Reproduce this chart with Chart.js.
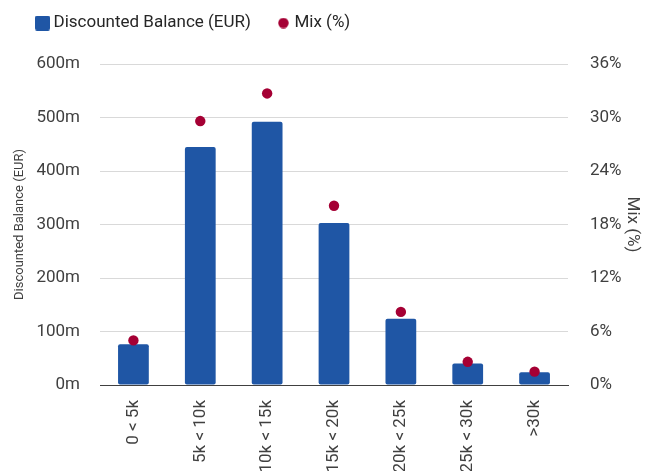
<!DOCTYPE html>
<html>
<head>
<meta charset="utf-8">
<script src="https://cdn.jsdelivr.net/npm/chart.js@4/dist/chart.umd.min.js"></script>
<style>
  html, body { margin: 0; padding: 0; background: #ffffff; overflow: hidden; }
  #wrap { position: relative; width: 646px; height: 471px; }
</style>
</head>
<body>
<div id="wrap"><canvas id="c"></canvas></div>
<script>
// ---- data ----
const categories = ['0 < 5k', '5k < 10k', '10k < 15k', '15k < 20k', '20k < 25k', '25k < 30k', '>30k'];
const balanceM = [76, 445, 492, 303, 124, 40, 24];          // Discounted Balance (EUR), millions
const mixPct = [5.0, 29.6, 32.7, 20.1, 8.2, 2.6, 1.5];      // Mix (%)
const leftTicks = [0, 100, 200, 300, 400, 500, 600];
const rightTicks = [0, 6, 12, 18, 24, 30, 36];
const seriesNames = ['Discounted Balance (EUR)', 'Mix (%)'];

const BAR_COLOR = '#1f56a5';
const DOT_COLOR = '#a50034';
const FONT = 'Roboto, "Liberation Sans", sans-serif';
const FS = 17;

Chart.defaults.font.family = FONT;
Chart.defaults.font.size = FS;
Chart.defaults.color = '#404040';

function makeSquare() {
  const c = document.createElement('canvas');
  c.width = 15; c.height = 15;
  const g = c.getContext('2d');
  g.fillStyle = BAR_COLOR;
  g.beginPath();
  if (g.roundRect) g.roundRect(0, 0, 15, 15, 2); else g.rect(0, 0, 15, 15);
  g.fill();
  return c;
}
function makeDot() {
  const c = document.createElement('canvas');
  c.width = 11; c.height = 11;
  const g = c.getContext('2d');
  g.fillStyle = DOT_COLOR;
  g.beginPath();
  g.arc(5.5, 5.5, 5.2, 0, Math.PI * 2);
  g.fill();
  return c;
}
const sqIcon = makeSquare();
const dotIcon = makeDot();

const LEGEND_H = 64;
const legendTweak = {
  id: 'legendTweak',
  beforeLayout(chart) {
    const lg = chart.legend;
    if (lg && !lg.__wrapped) {
      const orig = lg.fit;
      lg.fit = function () { orig.call(this); this.height = LEGEND_H; };
      lg.__wrapped = true;
    }
  },
  afterLayout(chart) {
    const lg = chart.legend;
    if (!lg) return;
    lg.top -= 15.5;
  }
};

new Chart(document.getElementById('c'), {
  type: 'bar',
  data: {
    labels: categories,
    datasets: [
      {
        label: seriesNames[0],
        data: balanceM,
        backgroundColor: BAR_COLOR,
        borderColor: BAR_COLOR,
        borderWidth: 0,
        borderRadius: 2,
        borderSkipped: false,
        barPercentage: 0.46,
        categoryPercentage: 1.0,
        yAxisID: 'y',
        order: 2
      },
      {
        type: 'line',
        label: seriesNames[1],
        data: mixPct,
        showLine: false,
        pointRadius: 5.2,
        pointHoverRadius: 5.2,
        pointBackgroundColor: DOT_COLOR,
        pointBorderWidth: 0,
        borderColor: DOT_COLOR,
        backgroundColor: DOT_COLOR,
        yAxisID: 'y1',
        order: 1
      }
    ]
  },
  options: {
    responsive: true,
    maintainAspectRatio: false,
    animation: false,
    layout: { padding: { left: 10, right: 0, top: 0, bottom: 0 } },
    plugins: {
      tooltip: { enabled: false },
      legend: {
        display: true,
        position: 'top',
        align: 'start',
        labels: {
          usePointStyle: true,
          boxWidth: 5,
          boxHeight: 15,
          padding: 30,
          color: '#262626',
          font: { size: FS },
          generateLabels() {
            return [
              { text: seriesNames[0], pointStyle: sqIcon, fillStyle: BAR_COLOR, strokeStyle: BAR_COLOR, lineWidth: 0, hidden: false, datasetIndex: 0, fontColor: '#262626' },
              { text: seriesNames[1], pointStyle: dotIcon, fillStyle: DOT_COLOR, strokeStyle: DOT_COLOR, lineWidth: 0, hidden: false, datasetIndex: 1, fontColor: '#262626' }
            ];
          }
        }
      }
    },
    scales: {
      x: {
        offset: true,
        grid: { display: false, drawTicks: false },
        border: { display: true, color: '#404040', width: 1 },
        ticks: { minRotation: 90, maxRotation: 90, padding: 15, autoSkip: false, font: { size: FS } },
        afterFit(scale) { scale.height = 86; }
      },
      y: {
        position: 'left',
        min: 0,
        max: 600,
        afterBuildTicks(scale) { scale.ticks = leftTicks.map(v => ({ value: v })); },
        afterFit(scale) { scale.width = 90; },
        grid: {
          drawTicks: false,
          color: ctx => (ctx.tick && ctx.tick.value === 0) ? '#404040' : '#d9d9d9',
          lineWidth: 1
        },
        border: { display: false },
        ticks: { padding: 20, callback: v => v + 'm', font: { size: FS } },
        title: { display: true, text: seriesNames[0], font: { size: 13 }, padding: { top: 2, bottom: 0 }, color: '#404040' }
      },
      y1: {
        position: 'right',
        min: 0,
        max: 36,
        afterBuildTicks(scale) { scale.ticks = rightTicks.map(v => ({ value: v })); },
        afterFit(scale) { scale.width = 78; },
        grid: { drawOnChartArea: false, drawTicks: false },
        border: { display: false },
        ticks: { padding: 22, callback: v => v + '%', font: { size: FS } },
        title: { display: true, text: seriesNames[1], font: { size: FS }, padding: { top: 4, bottom: 0 }, color: '#404040' }
      }
    }
  },
  plugins: [legendTweak]
});
</script>
</body>
</html>
